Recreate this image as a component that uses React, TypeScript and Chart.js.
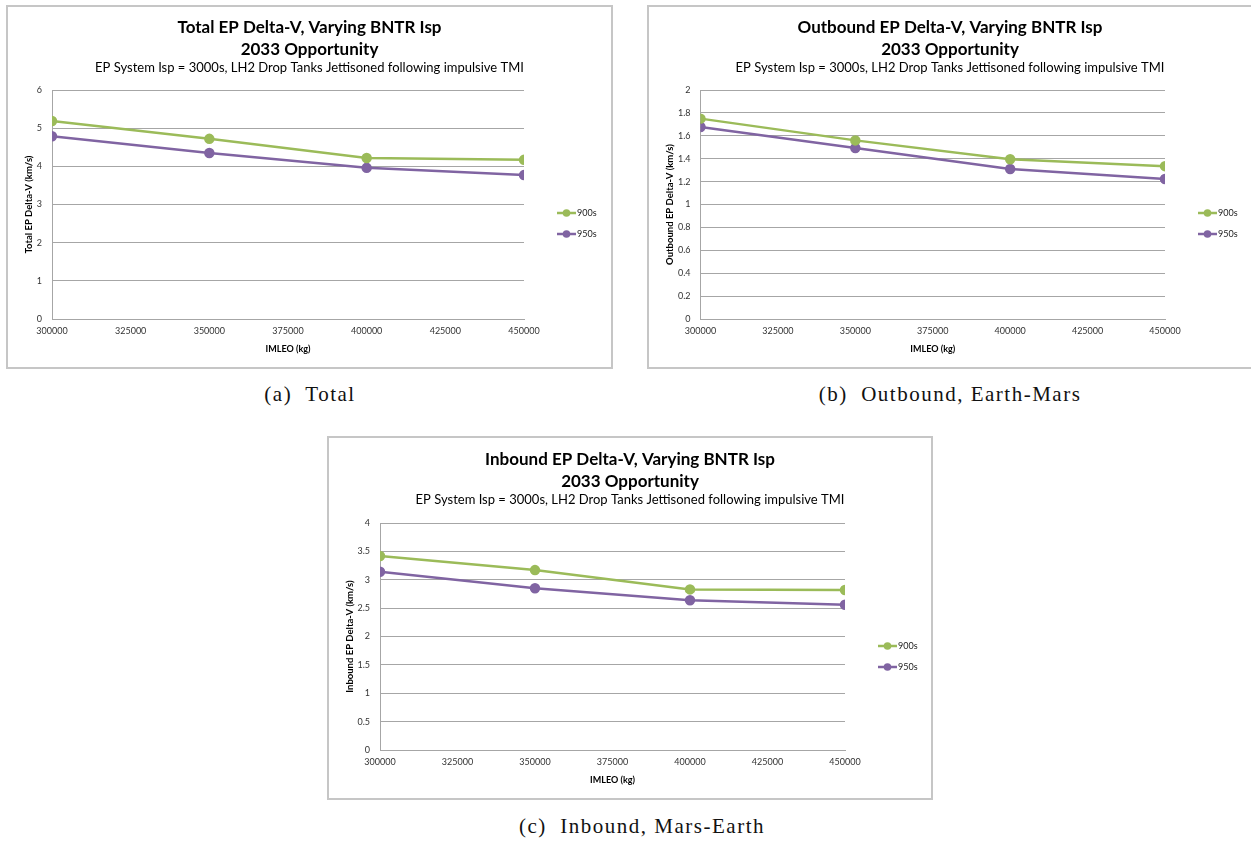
import React, { useEffect, useRef } from "react";
import { Chart, registerables } from "chart.js";

Chart.register(...registerables);
Chart.defaults.font.family = "Lato, 'Open Sans', sans-serif";

// ---- data ----
const imleo = [300000, 350000, 400000, 450000];
const seriesNames = ["900s", "950s"];
const total900 = [5.19, 4.72, 4.22, 4.17];
const total950 = [4.79, 4.35, 3.96, 3.77];
const outbound900 = [1.75, 1.56, 1.395, 1.335];
const outbound950 = [1.677, 1.493, 1.31, 1.222];
const inbound900 = [3.42, 3.17, 2.83, 2.82];
const inbound950 = [3.14, 2.85, 2.64, 2.56];
const subtitleText = "EP System Isp = 3000s, LH2 Drop Tanks Jettisoned following impulsive TMI";
const xAxisTitle = "IMLEO (kg)";
const captions = ["(a)  Total", "(b)  Outbound, Earth-Mars", "(c)  Inbound, Mars-Earth"];

const GREEN = "#9bbb59";
const PURPLE = "#8064a2";

const sideLegend = {
  id: "sideLegend",
  afterDraw(chart: any, _args: any, opts: any) {
    const { ctx, chartArea } = chart;
    chart.data.datasets.forEach((ds: any, i: number) => {
      const y = chartArea.top + opts.offsets[i];
      const x0 = chartArea.right + opts.dx;
      ctx.save();
      ctx.strokeStyle = ds.borderColor;
      ctx.lineWidth = 2.5;
      ctx.beginPath();
      ctx.moveTo(x0, y);
      ctx.lineTo(x0 + 19, y);
      ctx.stroke();
      ctx.fillStyle = ds.borderColor;
      ctx.beginPath();
      ctx.arc(x0 + 9.5, y, 3.8, 0, Math.PI * 2);
      ctx.fill();
      ctx.fillStyle = "#222";
      ctx.font = "9px Lato";
      ctx.textBaseline = "middle";
      ctx.fillText(ds.label, x0 + 20, y + 0.5);
      ctx.restore();
    });
  },
};

type Cfg = {
  title: string[];
  yTitle: string;
  y900: number[];
  y950: number[];
  yMax: number;
  yStep: number;
  padTop: number;
  padSide: number;
  yWidth: number;
  legendWidth: number;
  plotTop: number;
  xHeight: number;
  padBottom: number;
};

function buildConfig(c: Cfg): any {
  const titleH = 2 * 17 * 1.3;
  const subH = 13 * 1.2;
  const subPadTop = 0;
  const subPadBottom = c.plotTop - (c.padTop + titleH + subPadTop + subH);
  const mk = (label: string, vals: number[], color: string) => ({
    label,
    data: imleo.map((x, i) => ({ x, y: vals[i] })),
    borderColor: color,
    backgroundColor: color,
    borderWidth: 2.5,
    pointRadius: 4,
    pointHoverRadius: 4,
    pointBackgroundColor: color,
    pointBorderColor: color,
    tension: 0,
  });
  return {
    type: "line",
    data: {
      datasets: [mk(seriesNames[0], c.y900, GREEN), mk(seriesNames[1], c.y950, PURPLE)],
    },
    plugins: [sideLegend],
    options: {
      animation: false,
      responsive: false,
      events: [],
      layout: {
        padding: { top: c.padTop, left: c.padSide, right: c.padSide, bottom: c.padBottom },
      },
      plugins: {
        legend: { display: false },
        tooltip: { enabled: false },
        title: {
          display: true,
          text: c.title,
          color: "#000",
          font: { size: 17, weight: "bold", lineHeight: 1.3 },
          padding: { top: 0, bottom: 0 },
        },
        subtitle: {
          display: true,
          text: subtitleText,
          color: "#000",
          font: { size: 13, weight: "normal", lineHeight: 1.2 },
          padding: { top: subPadTop, bottom: subPadBottom },
        },
        sideLegend: { dx: 33, offsets: [123, 144] },
      },
      scales: {
        x: {
          type: "linear",
          min: 300000,
          max: 450000,
          afterFit: (s: any) => {
            s.height = c.xHeight;
          },
          ticks: {
            stepSize: 25000,
            callback: (v: any) => String(v),
            color: "#333",
            font: { size: 9 },
            padding: 7,
            maxRotation: 0,
            autoSkip: false,
          },
          grid: { display: false, drawTicks: false },
          border: { display: true, color: "#a6a6a6", width: 1 },
          title: {
            display: true,
            text: xAxisTitle,
            color: "#000",
            font: { size: 9, weight: "bold" },
            padding: { top: 4, bottom: 5 },
          },
        },
        y: {
          min: 0,
          max: c.yMax,
          afterFit: (s: any) => {
            s.width = c.yWidth;
          },
          ticks: {
            stepSize: c.yStep,
            callback: (v: any) => String(Math.round(Number(v) * 10) / 10),
            color: "#333",
            font: { size: 9 },
            padding: 10,
          },
          grid: { color: "#a6a6a6", lineWidth: 1, drawTicks: false },
          border: { display: true, color: "#a6a6a6", width: 1 },
          title: {
            display: true,
            text: c.yTitle,
            color: "#000",
            font: { size: 9.5, weight: "bold" },
            padding: { top: 3, bottom: 4 },
          },
        },
        legendSpace: {
          type: "linear",
          position: "right",
          display: true,
          afterFit: (s: any) => {
            s.width = c.legendWidth;
          },
          ticks: { display: false },
          grid: { display: false, drawTicks: false },
          border: { display: false },
          title: { display: false },
        },
      },
    },
  };
}

function ChartBox({ left, top, w, h, cfg }: { left: number; top: number; w: number; h: number; cfg: Cfg }) {
  const ref = useRef<HTMLCanvasElement | null>(null);
  useEffect(() => {
    const chart = new Chart(ref.current as HTMLCanvasElement, buildConfig(cfg));
    return () => chart.destroy();
  }, []);
  return (
    <div
      style={{
        position: "absolute",
        left,
        top,
        width: w,
        height: h,
        border: "2px solid #c6c6c6",
        boxSizing: "border-box",
        background: "#fff",
      }}
    >
      <canvas ref={ref} width={w - 4} height={h - 4} style={{ display: "block" }} />
    </div>
  );
}

function Caption({ cx, cy, text }: { cx: number; cy: number; text: string }) {
  return (
    <div
      style={{
        position: "absolute",
        left: cx - 250,
        width: 500,
        top: cy - 12,
        height: 24,
        lineHeight: "24px",
        textAlign: "center",
        fontFamily: "'Liberation Serif', serif",
        fontSize: 21,
        letterSpacing: "1.5px",
        whiteSpace: "pre",
        color: "#111",
      }}
    >
      {text}
    </div>
  );
}

export default function App() {
  const cfgA: Cfg = {
    title: ["Total EP Delta-V, Varying BNTR Isp", "2033 Opportunity"],
    yTitle: "Total EP Delta-V (km/s)",
    y900: total900,
    y950: total950,
    yMax: 6,
    yStep: 1,
    padTop: 9,
    padSide: 12,
    yWidth: 32,
    legendWidth: 75,
    plotTop: 83,
    xHeight: 40,
    padBottom: 8,
  };
  const cfgB: Cfg = {
    title: ["Outbound EP Delta-V, Varying BNTR Isp", "2033 Opportunity"],
    yTitle: "Outbound EP Delta-V (km/s)",
    y900: outbound900,
    y950: outbound950,
    yMax: 2,
    yStep: 0.2,
    padTop: 9,
    padSide: 12,
    yWidth: 39.5,
    legendWidth: 74,
    plotTop: 83,
    xHeight: 40,
    padBottom: 8,
  };
  const cfgC: Cfg = {
    title: ["Inbound EP Delta-V, Varying BNTR Isp", "2033 Opportunity"],
    yTitle: "Inbound EP Delta-V (km/s)",
    y900: inbound900,
    y950: inbound950,
    yMax: 4,
    yStep: 0.5,
    padTop: 10,
    padSide: 12,
    yWidth: 39,
    legendWidth: 74,
    plotTop: 85,
    xHeight: 40,
    padBottom: 8,
  };
  return (
    <div
      style={{
        position: "absolute",
        left: 0,
        top: 0,
        width: 1251,
        height: 842,
        overflow: "hidden",
        background: "#fff",
      }}
    >
      <ChartBox left={6} top={5} w={607} h={364} cfg={cfgA} />
      <ChartBox left={647} top={5} w={606} h={364} cfg={cfgB} />
      <ChartBox left={327} top={436} w={606} h={364} cfg={cfgC} />
      <Caption cx={310} cy={394} text={captions[0]} />
      <Caption cx={950} cy={394} text={captions[1]} />
      <Caption cx={642} cy={826} text={captions[2]} />
    </div>
  );
}
